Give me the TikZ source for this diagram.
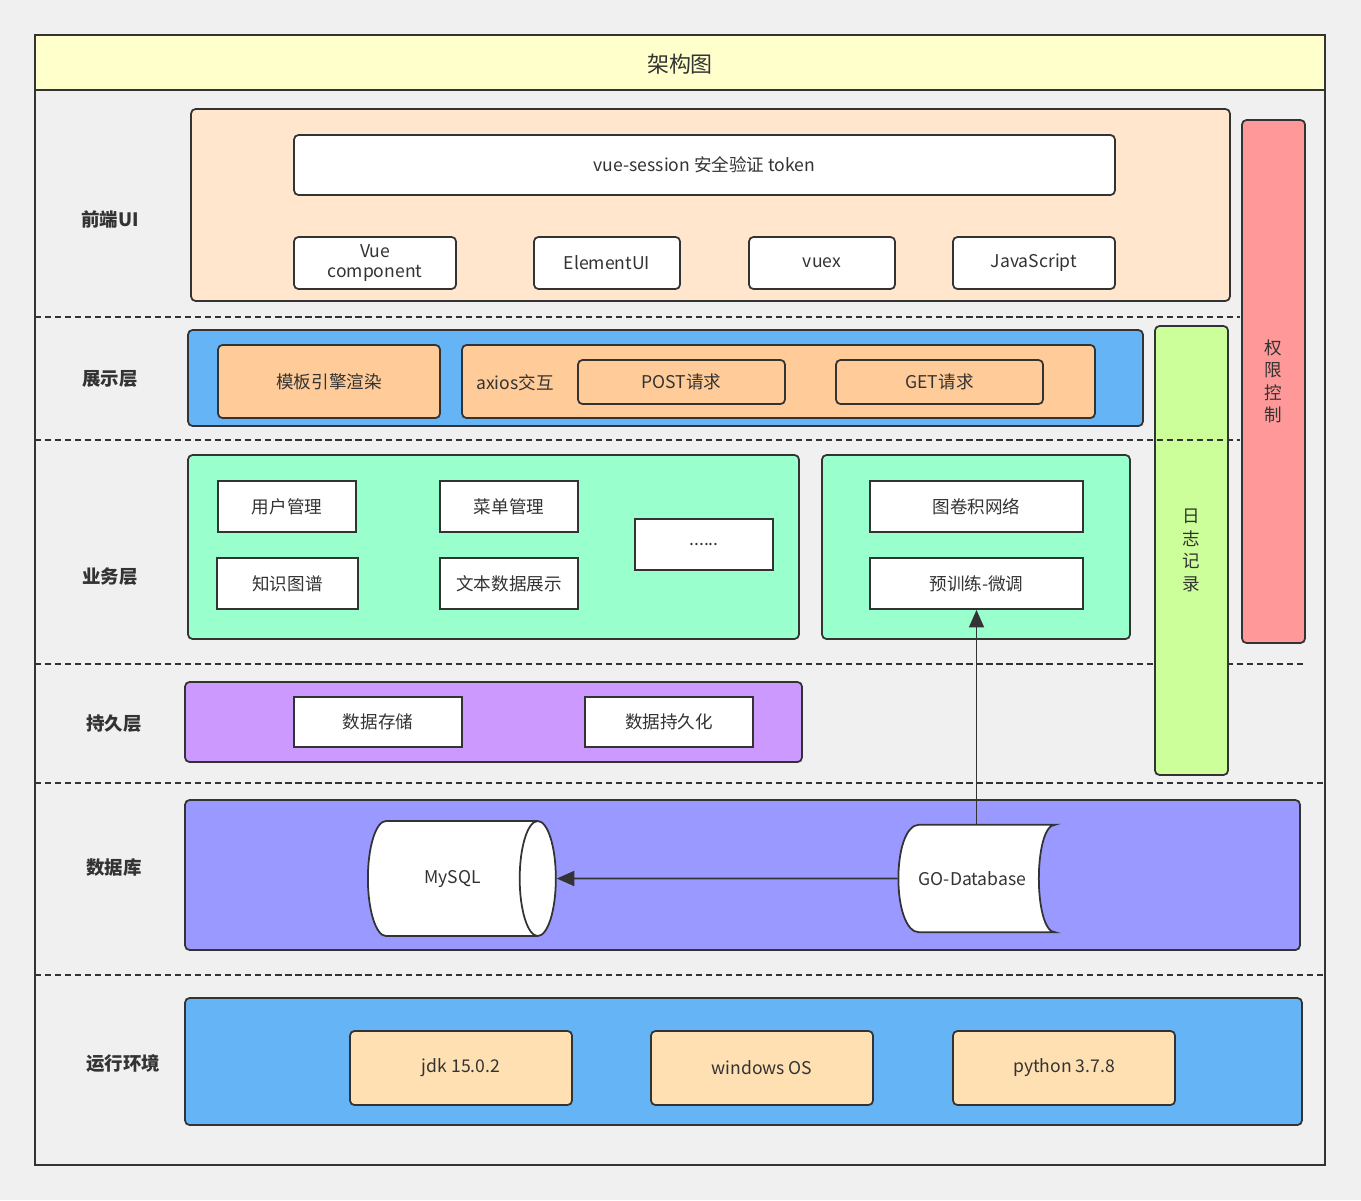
\documentclass[tikz,border=0pt]{standalone}
\usepackage{fontspec}
\setmainfont{Noto Sans CJK SC}
\usetikzlibrary{shapes.geometric, arrows.meta, positioning}
\definecolor{bgc}{HTML}{F0F0F0}
\definecolor{linec}{HTML}{333333}
\definecolor{textc}{HTML}{333333}
\definecolor{titlec}{HTML}{FFFFCC}
\definecolor{frontc}{HTML}{FFE6CC}
\definecolor{bluec}{HTML}{64B4F6}
\definecolor{orangec}{HTML}{FFCC99}
\definecolor{greenc}{HTML}{99FFCC}
\definecolor{purplec}{HTML}{CC99FF}
\definecolor{dbc}{HTML}{9999FF}
\definecolor{envc}{HTML}{FFE0B2}
\definecolor{logc}{HTML}{CCFF99}
\definecolor{authc}{HTML}{FF9999}
\tikzset{layer/.style={draw=linec, line width=1pt, rounded corners=2.5pt, inner sep=0pt},
    cell/.style={draw=linec, line width=1pt, fill=white, inner sep=0pt, align=center, text=textc,
        font=\fontsize{10}{11.5}\selectfont},
    roundcell/.style={cell, rounded corners=2.5pt},
    tag/.style={text=textc, font=\fontsize{10.5}{12}\selectfont\bfseries},
    sep/.style={draw=linec, line width=0.8pt, dash pattern=on 3.5pt off 2.2pt},
    flow/.style={draw=linec, line width=1.1pt, -{Triangle[length=10pt,width=8.5pt]}}}

\begin{document}
\begin{tikzpicture}[x=0.02cm, y=-0.02cm]
\useasboundingbox[fill=bgc] (0,0) rectangle (1361,1200);
% frame and title
\draw[linec, line width=1.2pt] (35,35) rectangle (1325,1165);
\draw[linec, line width=1.2pt, fill=titlec] (35,35) rectangle (1325,90);
\node[text=textc, font=\fontsize{12.5}{14}\selectfont] (title) at (680,64) {架构图};
% separators
\draw[sep] (35,317) -- (1240,317);
\draw[sep] (35,664) -- (1305,664);
\draw[sep] (35,783) -- (1325,783);
\draw[sep] (35,975) -- (1325,975);
% layer names
\node[tag] (tfront) at (110,219) {前端UI};
\node[tag] (tshow) at (110,379) {展示层};
\node[tag] (tbiz) at (110,577) {业务层};
\node[tag] (tpers) at (114,724) {持久层};
\node[tag] (tdb) at (114,867) {数据库};
\node[tag] (tenv) at (123,1064) {运行环境};
% front end
\node[layer, fill=frontc, minimum width=20.78cm, minimum height=3.84cm] (front) at (710.5,205) {};
\node[roundcell, minimum width=16.42cm, minimum height=1.2cm] (session) at (704.5,165) {vue-session 安全验证 token};
\node[roundcell, minimum width=3.24cm, minimum height=1.04cm] (vuecomp) at (375,263) {Vue\\component};
\node[roundcell, minimum width=2.92cm, minimum height=1.04cm] (element) at (607,263) {ElementUI};
\node[roundcell, minimum width=2.92cm, minimum height=1.04cm] (vuex) at (822,263) {vuex};
\node[roundcell, minimum width=3.24cm, minimum height=1.04cm] (js) at (1034,263) {JavaScript};
% presentation
\node[layer, fill=bluec, minimum width=19.1cm, minimum height=1.92cm] (show) at (665.5,378) {};
\node[roundcell, fill=orangec, minimum width=4.44cm, minimum height=1.46cm] (render) at (329,381.5) {模板引擎渲染};
\node[roundcell, fill=orangec, minimum width=12.66cm, minimum height=1.46cm] (axios) at (778.5,381.5) {};
\node[text=textc, font=\fontsize{10}{11.5}\selectfont] (axiostxt) at (515,383) {axios交互};
\node[roundcell, fill=orangec, minimum width=4.14cm, minimum height=0.88cm] (post) at (681.5,382) {POST请求};
\node[roundcell, fill=orangec, minimum width=4.14cm, minimum height=0.88cm] (get) at (939.5,382) {GET请求};
% business
\node[layer, fill=greenc, minimum width=12.22cm, minimum height=3.68cm] (biz) at (493.5,547) {};
\node[cell, minimum width=2.76cm, minimum height=1.02cm] (user) at (287,506.5) {用户管理};
\node[cell, minimum width=2.76cm, minimum height=1.02cm] (menu) at (509,506.5) {菜单管理};
\node[cell, minimum width=2.82cm, minimum height=1.02cm] (kg) at (287.5,583.5) {知识图谱};
\node[cell, minimum width=2.76cm, minimum height=1.02cm] (text) at (509,583.5) {文本数据展示};
\node[cell, minimum width=2.76cm, minimum height=1.02cm] (more) at (704,544.5) {......};
\node[layer, fill=greenc, minimum width=6.16cm, minimum height=3.68cm] (model) at (976,547) {};
\node[cell, minimum width=4.26cm, minimum height=1.02cm] (gcn) at (976.5,506.5) {图卷积网络};
\node[cell, minimum width=4.26cm, minimum height=1.02cm] (pretrain) at (976.5,583.5) {预训练-微调};
% persistence
\node[layer, fill=purplec, minimum width=12.34cm, minimum height=1.6cm] (pers) at (493.5,722) {};
\node[cell, minimum width=3.36cm, minimum height=1cm] (store) at (378,722) {数据存储};
\node[cell, minimum width=3.36cm, minimum height=1cm] (durable) at (669,722) {数据持久化};
% database
\node[layer, fill=dbc, minimum width=22.3cm, minimum height=3cm] (db) at (742.5,875) {};
\node[cell, cylinder, aspect=2.1, minimum width=2.3cm, minimum height=3.76cm, anchor=west] (mysql) at (367,878.5) {MySQL};
\node[minimum width=3.14cm, minimum height=2.14cm, inner sep=0pt] (go) at (976.5,878.5) {};
\draw[linec, line width=1pt, fill=white] (go.north east) -- ([xshift=-2.72cm]go.north east)
    .. controls ([xshift=-3.28cm]go.north east) and ([xshift=-3.28cm]go.south east) .. ([xshift=-2.72cm]go.south east)
    -- (go.south east) .. controls ([xshift=-0.44cm]go.south east) and ([xshift=-0.44cm]go.north east) .. cycle;
\node[text=textc, font=\fontsize{10}{11.5}\selectfont] (gotxt) at ([xshift=-0.08cm]go.center) {GO-Database};
\draw[flow] (go.west) -- (mysql.east);
\draw[flow] (go.north) -- (pretrain.south);
% runtime
\node[layer, fill=bluec, minimum width=22.34cm, minimum height=2.54cm] (env) at (743.5,1061.5) {};
\node[roundcell, fill=envc, minimum width=4.44cm, minimum height=1.48cm] (jdk) at (461,1068) {jdk 15.0.2};
\node[roundcell, fill=envc, minimum width=4.44cm, minimum height=1.48cm] (win) at (762,1068) {windows OS};
\node[roundcell, fill=envc, minimum width=4.44cm, minimum height=1.48cm] (py) at (1064,1068) {python 3.7.8};
% side bars
\node[roundcell, fill=logc, minimum width=1.46cm, minimum height=8.98cm, font=\fontsize{10}{12.8}\selectfont] (log) at (1191.5,550.5) {日\\志\\记\\录};
\node[roundcell, fill=authc, minimum width=1.26cm, minimum height=10.46cm, font=\fontsize{10}{12.8}\selectfont] (auth) at (1273.5,381.5) {权\\限\\控\\制};
\draw[sep] (35,440) -- (1240,440);
\end{tikzpicture}
\end{document}
